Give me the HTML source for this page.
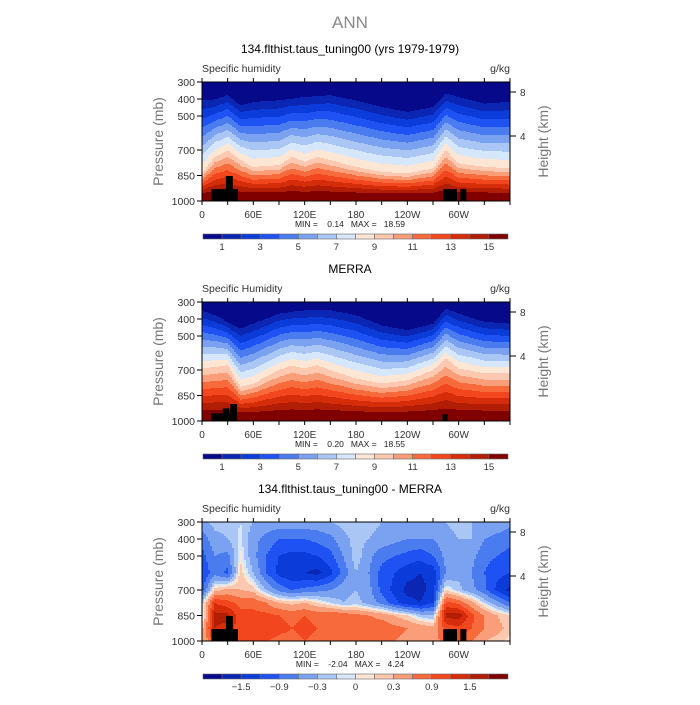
<!DOCTYPE html>
<html><head><meta charset="utf-8"><style>
body{margin:0;background:#fff;}
svg text{font-family:"Liberation Sans",sans-serif;}
</style></head><body>
<svg id="root" width="700" height="700" viewBox="0 0 700 700">
<text x="350" y="28" text-anchor="middle" font-size="17" fill="#8a8a8a">ANN</text>
</svg>
<script>
// ---- data ----
const lons = [0,15,30,45,60,75,90,105,120,135,150,165,180,195,210,225,240,255,270,285,300,315,330,345,360];
// pressure (mb) of q=1 and q=9 contours per longitude
const p1Model = [408,403,378,437,417,412,408,398,388,383,378,393,408,428,447,462,476,462,447,368,388,408,427,422,417];
const p9Model = [838,740,701,760,799,794,789,740,769,740,760,780,799,814,828,833,838,823,808,701,779,789,799,803,808];
const p1Merra = [350,378,417,456,427,398,368,358,349,349,349,363,378,408,437,452,466,446,427,339,368,393,417,422,427];
const p9Merra = [691,681,672,799,779,740,701,672,691,672,701,725,750,765,779,770,760,730,701,632,691,705,720,720,720];
// difference field rows (pressure levels) x lons
const diffP = [300,400,500,600,700,775,850,925,1000];
const diffVals = [
[-0.4,-0.2,-0.2,-0.1,-0.3,-0.4,-0.4,-0.4,-0.4,-0.4,-0.3,-0.2,-0.15,-0.2,-0.3,-0.3,-0.3,-0.3,-0.4,-0.3,-0.2,-0.3,-0.3,-0.4,-0.5],
[-0.8,-0.4,-0.3,-0.05,-0.5,-0.7,-0.9,-0.9,-0.9,-0.8,-0.7,-0.4,-0.2,-0.3,-0.4,-0.5,-0.6,-0.6,-0.6,-0.4,-0.3,-0.3,-0.6,-0.7,-0.8],
[-1.0,-0.6,-0.7,0.05,-0.5,-0.9,-1.2,-1.3,-1.3,-1.2,-1.0,-0.6,-0.15,-0.5,-0.8,-0.9,-1.0,-1.1,-0.9,-0.5,-0.4,-0.5,-0.8,-0.9,-1.0],
[-1.2,-0.7,-1.0,0.2,-0.3,-0.9,-1.3,-1.5,-1.5,-1.6,-1.3,-0.8,-0.3,-0.6,-1.0,-1.2,-1.4,-1.5,-1.4,-0.6,-0.4,-0.6,-0.9,-1.1,-1.2],
[-1.0,0.2,0.4,0.3,0.2,-0.3,-0.7,-0.9,-0.8,-0.7,-0.6,-0.4,-0.3,-0.5,-1.0,-1.3,-1.6,-1.6,-1.4,0.1,-0.2,-0.5,-0.8,-1.3,-1.6],
[-0.2,1.2,1.0,0.8,0.8,0.6,0.3,0.2,0.3,0.1,-0.1,-0.3,-0.2,-0.4,-0.7,-1.1,-1.4,-1.5,-1.2,1.0,0.8,0.4,-0.1,-0.5,-0.9],
[-0.2,1.6,1.6,1.0,1.0,1.0,0.9,0.8,0.9,0.8,0.9,0.8,0.7,0.6,0.5,0.3,0.1,-0.2,-0.3,1.6,1.7,1.0,0.6,0.3,0.1],
[0.2,1.5,1.4,1.0,1.0,1.1,1.0,0.9,1.0,0.9,0.9,0.9,0.9,0.8,0.8,0.7,0.6,0.5,0.4,1.0,1.1,0.9,0.6,0.4,0.2],
[0.3,1.0,1.0,0.9,0.9,0.9,0.8,0.8,0.9,0.8,0.8,0.8,0.8,0.7,0.7,0.6,0.5,0.4,0.3,0.9,0.9,0.6,0.3,0.2,0.0]];
const qLevels = [1,2,3,4,5,6,7,8,9,10,11,12,13,14,15];
const qLabels = ["1","3","5","7","9","11","13","15"];
const dLevels = [-1.8,-1.5,-1.2,-0.9,-0.6,-0.3,-0.1,0,0.1,0.3,0.6,0.9,1.2,1.5,1.8];
const dLabels = ["-1.5","-0.9","-0.3","0","0.3","0.9","1.5"];
const colors = ["#06098a","#0a26b2","#0b3cda","#1f52f2","#4a7cf0","#7aa2f0","#aac6f5","#d6e6fb","#fee6d4","#fcc8b0","#f99e78","#f76a3c","#f2461e","#d52c0a","#b21d05","#800000"];
const pTicks = [300,400,500,700,850,1000];
const lonTicks = [0,60,120,180,240,300];
const lonTickLabels = ["0","60E","120E","180","120W","60W"];
// terrain masks: [lonStart, lonEnd, topPressure]
const mask1 = [[11,42,930],[28,36,853],[282,298,930],[302,309,930]];
const mask2 = [[11,33,955],[24.5,32,926],[33,41,900],[281,287,960]];
const mask3 = mask1;
const panels = [
 {top:82, title:"134.flthist.taus_tuning00 (yrs 1979-1979)", sub:"Specific humidity", min:"0.14", max:"18.59", kind:"q", p1:p1Model, p9:p9Model, mask:mask1, levels:qLevels, labels:qLabels, labIdx:[0,2,4,6,8,10,12,14]},
 {top:302, title:"MERRA", sub:"Specific Humidity", min:"0.20", max:"18.55", kind:"q", p1:p1Merra, p9:p9Merra, mask:mask2, levels:qLevels, labels:qLabels, labIdx:[0,2,4,6,8,10,12,14]},
 {top:522, title:"134.flthist.taus_tuning00 - MERRA", sub:"Specific humidity", min:"-2.04", max:"4.24", kind:"d", mask:mask3, levels:dLevels, labels:dLabels, labIdx:[1,3,5,7,9,11,13]}
];
// ---- helpers ----
const NS="http://www.w3.org/2000/svg";
const root=document.getElementById('root');
const X0=202, X1=510, H=119;
function xOf(lon){return X0+lon/360*(X1-X0);}
function interpLon(arr,lon){const f=lon/15;const i=Math.min(23,Math.floor(f));const t=f-i;return arr[i]*(1-t)+arr[i+1]*t;}
function qVal(P,lon,p){const a=interpLon(P.p1,lon),b=interpLon(P.p9,lon);
 if(p<a) return 0.3+0.7*(p-300)/(a-300);
 if(p<b) return 1+8*(p-a)/(b-a);
 return Math.min(17,9+7*(p-b)/(975-b));}
function dVal(lon,p){const f=lon/15;const i=Math.min(23,Math.floor(f));const t=f-i;
 let r=0;while(r<diffP.length-2&&p>diffP[r+1])r++;const s=(p-diffP[r])/(diffP[r+1]-diffP[r]);
 const v0=diffVals[r][i]*(1-t)+diffVals[r][i+1]*t, v1=diffVals[r+1][i]*(1-t)+diffVals[r+1][i+1]*t;return v0*(1-s)+v1*s;}
function colIdx(levels,v){let k=0;while(k<levels.length&&v>=levels[k])k++;return k;}
function txt(g,x,y,s,size,anchor,fill,name){const t=document.createElementNS(NS,'text');t.setAttribute('x',x);t.setAttribute('y',y);t.setAttribute('font-size',size);t.setAttribute('text-anchor',anchor);t.setAttribute('fill',fill);t.textContent=s;
 
 
 g.appendChild(t);return t;}
function ln(g,x1,y1,x2,y2){const l=document.createElementNS(NS,'line');l.setAttribute('x1',x1);l.setAttribute('y1',y1);l.setAttribute('x2',x2);l.setAttribute('y2',y2);l.setAttribute('stroke','#000');l.setAttribute('stroke-width','1');
 
 
 g.appendChild(l);}
panels.forEach((P,pi)=>{
 const T=P.top, B=T+H;
 const yOf=p=>T+(p-300)/700*H;
 const g=document.createElementNS(NS,'g');
 
 
 root.appendChild(g);
 txt(g,350,T-29,P.title,12,'middle','#000','panel-title');
 txt(g,202,T-10,P.sub,10.5,'start','#333','variable-label');
 txt(g,510,T-10,"g/kg",10.5,'end','#333','units-label');
 const field=document.createElementNS(NS,'g');
 
 
 g.appendChild(field);
 const cw=2, ch=1;
 for(let x=X0;x<X1;x+=cw){
  const lon=(x+cw/2-X0)/(X1-X0)*360;
  let start=T, prev=-1;
  for(let y=T;y<=B;y+=ch){
   let k=-2;
   if(y<B){const p=300+(y+ch/2-T)/H*700;
    const v=P.kind==='q'?qVal(P,lon,p):dVal(lon,p);k=colIdx(P.levels,v);}
   if(k!==prev){
    if(prev>=0){const r=document.createElementNS(NS,'rect');r.setAttribute('x',x);r.setAttribute('y',start);r.setAttribute('width',cw+0.3);r.setAttribute('height',y-start+0.3);r.setAttribute('fill',colors[prev]);
     
     
     field.appendChild(r);}
    prev=k;start=y;}
  }
 }
 P.mask.forEach(m=>{const r=document.createElementNS(NS,'rect');r.setAttribute('x',xOf(m[0]));r.setAttribute('y',yOf(m[2]));r.setAttribute('width',xOf(m[1])-xOf(m[0]));r.setAttribute('height',B-yOf(m[2]));r.setAttribute('fill','#000');
  
  
  g.appendChild(r);});
 const fr=document.createElementNS(NS,'rect');fr.setAttribute('x',X0);fr.setAttribute('y',T);fr.setAttribute('width',X1-X0);fr.setAttribute('height',H);fr.setAttribute('fill','none');fr.setAttribute('stroke','#000');
 
 
 g.appendChild(fr);
 pTicks.forEach(p=>{const y=yOf(p);ln(g,X0-5,y,X0,y);txt(g,X0-7,y+4,String(p),10.5,'end','#333','y-tick-label');});
 for(let lon=0;lon<=360;lon+=30){ln(g,xOf(lon),B,xOf(lon),B+4);ln(g,xOf(lon),T-4,xOf(lon),T);}
 lonTicks.forEach((l,i)=>txt(g,xOf(l),B+17,lonTickLabels[i],10,'middle','#333','x-tick-label'));
 [[8,T+10],[4,T+54]].forEach(h=>{ln(g,X1,h[1],X1+6,h[1]);txt(g,X1+10,h[1]+4,String(h[0]),10,'start','#333','height-tick-label');});
 const yl=txt(g,0,0,"Pressure (mb)",14,'middle','#777','y-axis-title');yl.setAttribute('transform','translate(163,'+(T+H/2)+') rotate(-90)');
 const hl=txt(g,0,0,"Height (km)",14,'middle','#777','height-axis-title');hl.setAttribute('transform','translate(548,'+(T+H/2)+') rotate(-90)');
 const mm=txt(g,350,B+26,"MIN =    "+P.min+"   MAX =   "+P.max,8.5,'middle','#222','min-max-label');
 mm.setAttribute('style','white-space:pre');
 // colorbar
 const cy=B+33, cx0=203, bw=(508-203)/16;
 const cb=document.createElementNS(NS,'g');
 
 
 g.appendChild(cb);
 colors.forEach((c,i)=>{const r=document.createElementNS(NS,'rect');r.setAttribute('x',cx0+i*bw);r.setAttribute('y',cy);r.setAttribute('width',bw);r.setAttribute('height',5);r.setAttribute('fill',c);r.setAttribute('stroke','#666');r.setAttribute('stroke-width','0.6');
  
  
  cb.appendChild(r);});
 P.labels.forEach((s,i)=>txt(cb,cx0+(P.labIdx[i]+1)*bw,cy+16,s.replace('-','\u2212'),9.5,'middle','#333','colorbar-label'));
});
</script>
</body></html>
